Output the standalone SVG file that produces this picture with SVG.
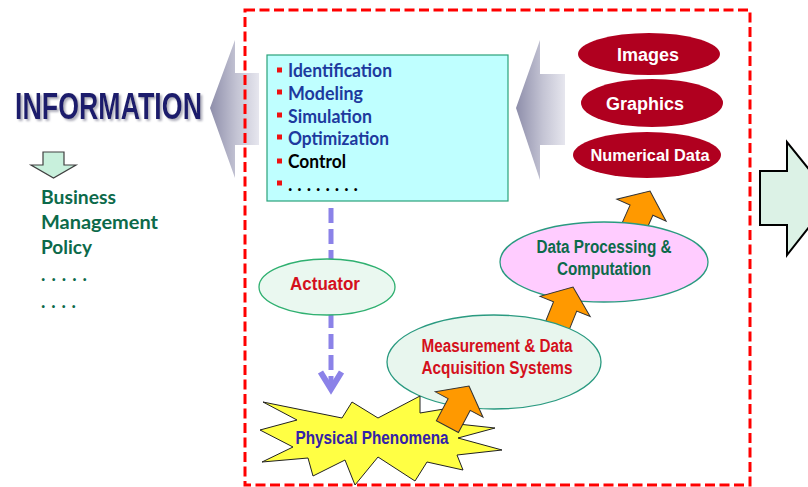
<svg xmlns="http://www.w3.org/2000/svg" width="808" height="487" viewBox="0 0 808 487">
  <defs>
    <linearGradient id="greyArrow" x1="0" y1="0" x2="1" y2="0">
      <stop offset="0" stop-color="#8e8eaa"/>
      <stop offset="0.55" stop-color="#c4c4d4"/>
      <stop offset="1" stop-color="#e6e6ee"/>
    </linearGradient>
    <filter id="shadow" x="-10%" y="-30%" width="120%" height="160%">
      <feDropShadow dx="2" dy="2" stdDeviation="1.2" flood-color="#9a9aaa" flood-opacity="0.8"/>
    </filter>
    <!-- orange block arrow, tip at origin, pointing up -->
    <path id="upArrow" d="M0,0 L27,21 L12.5,21 L12.5,46 L-12.5,46 L-12.5,21 L-27,21 Z"/>
  </defs>
  <style>
    .sans { font-family: "Liberation Sans", Arial, sans-serif; font-weight: bold; }
    .list { font-family: Lato, "Open Sans", sans-serif; font-weight: bold; font-size: 18.5px; }
    .blue { fill: #1d3a9e; }
    .bullet { fill: #ee1111; }
    .green { fill: #0c6a4a; }
    .redtxt { fill: #d4101c; }
    .white { fill: #ffffff; }
    .redEll { fill: #b0001f; }
    .orange { fill: #ff9900; stroke: #333333; stroke-width: 1; stroke-linejoin: miter; }
    .dash { stroke: #8b82e8; stroke-width: 5; fill: none; }
  </style>

  <rect width="808" height="487" fill="#ffffff"/>

  <!-- INFORMATION heading with soft shadow -->
  <g id="information">
    <text x="15" y="119" class="sans" font-size="36" fill="#1c1c6c" filter="url(#shadow)" textLength="187" lengthAdjust="spacingAndGlyphs">INFORMATION</text>
  </g>

  <!-- small down arrow and the use list -->
  <g id="uses">
    <path d="M43,152 L64,152 L64,165 L76,165 L53.5,178 L31,165 L43,165 Z" fill="#c8f0dc" stroke="#404040" stroke-width="1.2"/>
    <text x="41" y="204" class="list green" textLength="75" lengthAdjust="spacingAndGlyphs">Business</text>
    <text x="41" y="229" class="list green" textLength="117" lengthAdjust="spacingAndGlyphs">Management</text>
    <text x="41" y="254" class="list green" textLength="51" lengthAdjust="spacingAndGlyphs">Policy</text>
    <text x="41" y="281" class="list green" textLength="46" lengthAdjust="spacing">. . . . .</text>
    <text x="41" y="308" class="list green" textLength="35" lengthAdjust="spacing">. . . .</text>
  </g>

  <!-- grey arrow towards INFORMATION -->
  <g id="arrow-left">
    <path d="M210,108 L235,40 L235,73 L259,73 L259,145 L235,145 L235,178 Z" fill="url(#greyArrow)"/>
  </g>

  <!-- grey arrow from the data outputs into the analysis box -->
  <g id="arrow-right-in">
    <path d="M516,108 L540,40 L540,74 L565,74 L565,145 L540,145 L540,180 Z" fill="url(#greyArrow)"/>
  </g>

  <!-- analysis tasks box -->
  <g id="tasks">
    <rect x="267" y="55" width="241" height="146" fill="#bfffff" stroke="#2aa27a" stroke-width="1.2"/>
    <rect x="277" y="67.5" width="5" height="5" class="bullet"/>
    <rect x="277" y="89.5" width="5" height="5" class="bullet"/>
    <rect x="277" y="112.5" width="5" height="5" class="bullet"/>
    <rect x="277" y="134.5" width="5" height="5" class="bullet"/>
    <rect x="277" y="158.5" width="5" height="5" class="bullet"/>
    <rect x="277" y="180.5" width="5" height="5" class="bullet"/>
    <text x="288" y="77" class="list blue" textLength="104" lengthAdjust="spacingAndGlyphs">Identification</text>
    <text x="288" y="100" class="list blue" textLength="75" lengthAdjust="spacingAndGlyphs">Modeling</text>
    <text x="288" y="122.5" class="list blue" textLength="84" lengthAdjust="spacingAndGlyphs">Simulation</text>
    <text x="288" y="145" class="list blue" textLength="101" lengthAdjust="spacingAndGlyphs">Optimization</text>
    <text x="288" y="167.5" class="list" fill="#000000" textLength="58" lengthAdjust="spacingAndGlyphs">Control</text>
    <text x="288" y="190.5" class="list" fill="#000000" textLength="70" lengthAdjust="spacing">. . . . . . . .</text>
  </g>

  <!-- data outputs -->
  <g id="images">
    <ellipse cx="649" cy="54" rx="71" ry="21" class="redEll"/>
    <text x="648" y="60.5" class="sans white" font-size="18" text-anchor="middle">Images</text>
  </g>
  <g id="graphics">
    <ellipse cx="652" cy="103" rx="71" ry="24" class="redEll"/>
    <text x="645" y="109.5" class="sans white" font-size="18" text-anchor="middle">Graphics</text>
  </g>
  <g id="numerical-data">
    <ellipse cx="647" cy="155" rx="74" ry="23" class="redEll"/>
    <text x="650" y="160.5" class="sans white" font-size="16" text-anchor="middle" textLength="119" lengthAdjust="spacingAndGlyphs">Numerical Data</text>
  </g>

  <!-- flow connectors -->
  <g id="connectors">
    <!-- command path: tasks to actuator to phenomena -->
    <line x1="331" y1="208" x2="331" y2="386" class="dash" stroke-dasharray="15 6"/>
    <polyline points="320.5,372 331,389 341.5,372" fill="none" stroke="#8b82e8" stroke-width="6" stroke-linejoin="miter"/>
    <!-- processing to outputs -->
    <use href="#upArrow" class="orange" transform="translate(650,191) rotate(24)"/>
  </g>

  <!-- data processing stage -->
  <g id="data-processing">
    <ellipse cx="604" cy="262" rx="104" ry="40" fill="#ffccff" stroke="#2a9a80" stroke-width="1.3"/>
    <text x="604" y="253" class="sans green" font-size="18" text-anchor="middle" textLength="135" lengthAdjust="spacingAndGlyphs">Data Processing &amp;</text>
    <text x="604" y="275" class="sans green" font-size="18" text-anchor="middle" textLength="94" lengthAdjust="spacingAndGlyphs">Computation</text>
  </g>

  <!-- measurement to processing -->
  <use href="#upArrow" class="orange" transform="translate(573,287) rotate(22)"/>

  <!-- measurement stage -->
  <g id="measurement">
    <ellipse cx="494" cy="362" rx="107" ry="47" fill="#e8f6ee" stroke="#2a9a80" stroke-width="1.3"/>
    <text x="497" y="352" class="sans redtxt" font-size="17.5" text-anchor="middle" textLength="151" lengthAdjust="spacingAndGlyphs">Measurement &amp; Data</text>
    <text x="497" y="374" class="sans redtxt" font-size="17.5" text-anchor="middle" textLength="151" lengthAdjust="spacingAndGlyphs">Acquisition Systems</text>
  </g>

  <!-- actuator -->
  <g id="actuator">
    <ellipse cx="327" cy="287" rx="68" ry="28" fill="#eaf8f0" stroke="#2fb070" stroke-width="1.3"/>
    <text x="325" y="290" class="sans redtxt" font-size="18" text-anchor="middle" textLength="70" lengthAdjust="spacingAndGlyphs">Actuator</text>
  </g>

  <!-- physical phenomena burst -->
  <g id="physical-phenomena">
    <polygon points="263,402 342,418 352,402 378,418 420,396 420,413 462,406 458,424 495,428 458,438 502,450 457,455 463,470 427,462 415,481 378,457 355,485 345,460 313,476 308,458 262,462 293,447 260,430 297,420" fill="#ffff44" stroke="#222222" stroke-width="1" stroke-linejoin="miter"/>
    <text x="372" y="444" class="sans" fill="#3322a8" font-size="17.5" text-anchor="middle" textLength="153" lengthAdjust="spacingAndGlyphs">Physical Phenomena</text>
  </g>

  <!-- phenomena to measurement -->
  <use href="#upArrow" class="orange" transform="translate(469,386) rotate(28)"/>

  <!-- boundary of the monitored system -->
  <rect id="system-boundary" x="245" y="10" width="505" height="475" fill="none" stroke="#ff0000" stroke-width="3" stroke-dasharray="10 4.5"/>

  <!-- outgoing arrow at the right edge -->
  <g id="arrow-right-out">
    <path d="M760,171 L787,171 L787,142 L832,198 L787,255 L787,225 L760,225 Z" fill="#dcf2e6" stroke="#000000" stroke-width="2" stroke-linejoin="miter"/>
  </g>
</svg>
